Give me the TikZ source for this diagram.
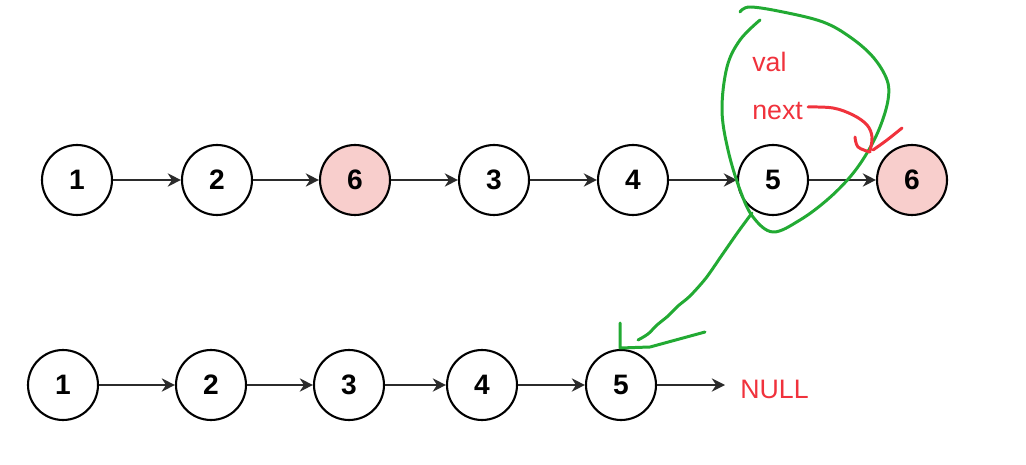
\documentclass[tikz,border=0pt]{standalone}
\usepackage{fontspec}
\setmainfont{Liberation Sans}
\usetikzlibrary{arrows.meta}
\definecolor{edgegray}{HTML}{2B2B2B}
\definecolor{pinkfill}{HTML}{F8CECC}
\definecolor{penred}{HTML}{F0323C}
\definecolor{pengreen}{HTML}{22AA33}
\tikzset{
  lnode/.style={circle, draw=black, line width=1.2pt, fill=white, minimum size=1.4cm, inner sep=0pt, font=\fontsize{16}{18}\selectfont\bfseries},
  hnode/.style={lnode, fill=pinkfill},
  link/.style={draw=edgegray, line width=1.4pt, -{Stealth[length=7.5pt,width=7.5pt]}},
  redtext/.style={text=penred, font=\fontsize{15.2}{18}\selectfont, inner sep=0pt},
  greenpen/.style={draw=pengreen, line width=1.7pt, line cap=round, line join=round},
  redpen/.style={draw=penred, line width=1.7pt, line cap=round, line join=round}
}
\begin{document}
\begin{tikzpicture}[x=0.02cm, y=-0.02cm]
\useasboundingbox (0,0) rectangle (1026,465);
% top row
\node[lnode] (t1) at (77,180) {1};
\node[lnode] (t2) at (217,180) {2};
\node[hnode] (t6a) at (355,180) {6};
\node[lnode] (t3) at (494,180) {3};
\node[lnode] (t4) at (633,180) {4};
\node[lnode] (t5) at (773,180) {5};
\node[hnode] (t6b) at (912,180) {6};
\draw[link] (t1) -- (t2);
\draw[link] (t2) -- (t6a);
\draw[link] (t6a) -- (t3);
\draw[link] (t3) -- (t4);
\draw[link] (t4) -- (t5);
\draw[link] (t5) -- (t6b);
% bottom row
\node[lnode] (b1) at (63,385) {1};
\node[lnode] (b2) at (211,385) {2};
\node[lnode] (b3) at (349,385) {3};
\node[lnode] (b4) at (482,385) {4};
\node[lnode] (b5) at (621,385) {5};
\coordinate (bend) at (725,385);
\node[redtext, anchor=west] (null) at (740,389) {NULL};
\draw[link] (b1) -- (b2);
\draw[link] (b2) -- (b3);
\draw[link] (b3) -- (b4);
\draw[link] (b4) -- (b5);
\draw[link] (b5) -- (bend);
% annotations
\node[redtext, anchor=west] (val) at (752,62) {val};
\node[redtext, anchor=west] (next) at (752,111) {next};
\draw[greenpen] plot[smooth, tension=0.6] coordinates {(740,12) (750,7) (783,12) (823,22) (850,37) (873,57) (887,80) (888,100) (880,127) (867,153) (850,177) (827,200) (800,220) (773,232) (753,217) (740,190) (728,150) (722,110) (727,67) (740,40) (760,20)};
\draw[greenpen] plot[smooth, tension=0.5] coordinates {(752,213) (738,232) (722,255) (706,278) (690,296) (678,306) (668,316) (657,325) (648,334) (638,340)};
\draw[greenpen] (620,323) -- (620,348) -- (650,347) -- (705,332);
\draw[redpen] plot[smooth, tension=0.6] coordinates {(808,107) (833,108) (853,115) (867,125) (872,137) (870,151)};
\draw[redpen] plot[smooth, tension=0.6] coordinates {(855,137) (858,147) (870,152)};
\draw[redpen] plot[smooth, tension=0.6] coordinates {(902,128) (887,140) (873,150)};
\end{tikzpicture}
\end{document}
